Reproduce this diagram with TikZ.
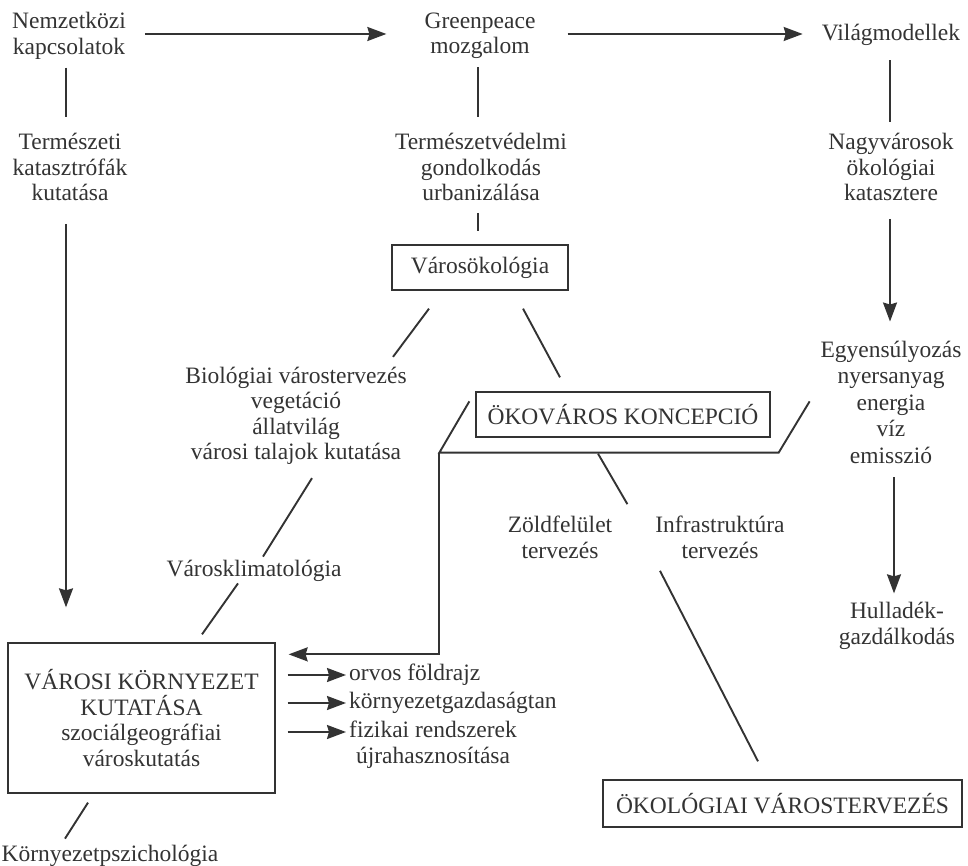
\documentclass[tikz,border=0pt]{standalone}
\usepackage{fontspec}
\setmainfont{Liberation Serif}
\usetikzlibrary{arrows.meta}

\definecolor{inkgray}{rgb}{0.2,0.2,0.2}
\newcommand{\diagfont}{\fontsize{23.5}{25.5}\selectfont}

\tikzset{
  lbl/.style={inner sep=0pt, align=center, font=\diagfont, text=inkgray},
  frame/.style={lbl, draw=inkgray, line width=1.3pt},
  link/.style={draw=inkgray, line width=1.9pt},
  arr/.style={link, -{Stealth[length=19pt,width=14pt,inset=2pt]}},
}

\begin{document}
\begin{tikzpicture}[x=1pt, y=-1pt]
	\useasboundingbox (0,0) rectangle (968,866);

	% top row
	\node[lbl] (nemz) at (69,36) {Nemzetközi\\kapcsolatok};
	\node[lbl] (green) at (480,36) {Greenpeace\\mozgalom};
	\node[lbl] (vilag) at (891,34.5) {Világmodellek};

	\node[lbl] (term) at (70,167) {Természeti\\katasztrófák\\kutatása};
	\node[lbl] (tvg) at (481,167) {Természetvédelmi\\gondolkodás\\urbanizálása};
	\node[lbl] (nagy) at (891,167) {Nagyvárosok\\ökológiai\\katasztere};

	\node[frame, minimum width=176, minimum height=45] (varos) at (480,267.5) {Városökológia};
	\node[lbl, font=\fontsize{23.5}{26.5}\selectfont] (egy) at (891,402) {Egyensúlyozás\\nyersanyag\\energia\\víz\\emisszió};
	\node[lbl] (hull) at (897,626) {Hulladék-\\gazdálkodás};

	% middle
	\node[lbl] (bio) at (296,416) {Biológiai várostervezés\\vegetáció\\állatvilág\\városi talajok kutatása};
	\node[frame, minimum width=294, minimum height=45] (oko) at (623,414.5) {ÖKOVÁROS KONCEPCIÓ};
	\node[lbl] (klima) at (254,570.5) {Városklimatológia};
	\node[lbl] (zold) at (560,537.5) {Zöldfelület\\tervezés};
	\node[lbl] (infra) at (720,537.5) {Infrastruktúra\\tervezés};

	% bottom
	\node[frame, minimum width=267, minimum height=150] (vk) at (141.5,718) {VÁROSI KÖRNYEZET\\KUTATÁSA\\szociálgeográfiai\\városkutatás};
	\node[lbl, anchor=north west] (orv) at (349,664) {orvos földrajz};
	\node[lbl, anchor=north west] (korny) at (349,692) {környezetgazdaságtan};
	\node[lbl, anchor=north west] (fiz) at (349,721) {fizikai rendszerek\\újrahasznosítása};
	\node[lbl] (psz) at (110,855.5) {Környezetpszichológia};
	\node[frame, minimum width=359, minimum height=47] (okol) at (782.5,803.5) {ÖKOLÓGIAI VÁROSTERVEZÉS};

	\draw[arr, shorten <=19pt, shorten >=38pt] ([yshift=2pt]nemz.east) -- ([yshift=2pt]nemz.east -| green.west);
	\draw[arr, shorten <=32pt, shorten >=19pt] ([yshift=2pt]green.east) -- ([yshift=2pt]green.east -| vilag.west);

	\draw[link, shorten <=8pt, shorten >=16pt] ([xshift=-3pt]nemz.south) -- ([xshift=-4pt]term.north);
	\draw[arr, shorten <=23pt, shorten >=35pt] ([xshift=-4pt]term.south) -- ([xshift=-4pt]term.south |- vk.north);
	\draw[link, shorten <=8pt, shorten >=16pt] ([xshift=-2pt]green.south) -- ([xshift=-3pt]tvg.north);
	\draw[link, shorten <=12pt, shorten >=13pt] ([xshift=-3pt]tvg.south) -- ([xshift=-2pt]varos.north);
	\draw[link, shorten <=15pt, shorten >=11pt] ([xshift=-1pt]vilag.south) -- ([xshift=-1pt]nagy.north);
	\draw[arr, shorten <=18pt, shorten >=19pt] ([xshift=-1pt]nagy.south) -- ([xshift=-1pt]nagy.south |- egy.north);
	\draw[arr, shorten <=14pt, shorten >=9pt] ([xshift=3pt]egy.south) -- ([xshift=3pt]egy.south |- hull.north);

	\draw[link] ([shift={(-51,18)}]varos.south) -- ([shift={(97,-10)}]bio.north);
	\draw[link] ([shift={(43,18)}]varos.south) -- ([shift={(-63,-14)}]oko.north);
	\draw[link] ([shift={(16,13)}]bio.south) -- ([shift={(9,-3)}]klima.north);
	\draw[link] ([shift={(-16,2)}]klima.south) -- ([shift={(60.5,-8)}]vk.north);
	\draw[link] ([shift={(-53.5,9)}]vk.south) -- ([shift={(-45,-6)}]psz.north);

	\draw[link] ([shift={(-6,10)}]oko.north west) -- ([shift={(-36,15)}]oko.south west) coordinate (knee)
		-- ([shift={(8,15)}]oko.south east) -- ([shift={(39,10)}]oko.north east);
	\draw[arr] (knee) |- ([shift={(13,12)}]vk.north east);
	\draw[link] ([shift={(-25,16)}]oko.south) -- ([shift={(15,-12)}]zold.north east);
	\draw[link] ([shift={(-60,12)}]infra.south) -- ([shift={(-24.5,-18)}]okol.north);

	\draw[arr] ([shift={(12,11)}]vk.east |- orv.north west) -- ([shift={(-3,11)}]orv.north west);
	\draw[arr] ([shift={(12,11)}]vk.east |- korny.north west) -- ([shift={(-3,11)}]korny.north west);
	\draw[arr] ([shift={(12,11)}]vk.east |- fiz.north west) -- ([shift={(-3,11)}]fiz.north west);
\end{tikzpicture}
\end{document}
